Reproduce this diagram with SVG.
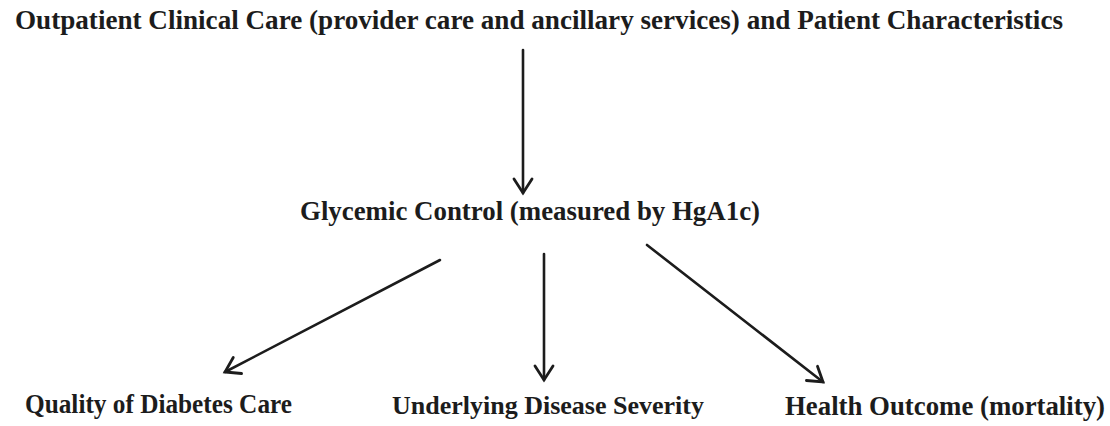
<svg xmlns="http://www.w3.org/2000/svg" width="1110" height="426" viewBox="0 0 1110 426">
<defs>
<style>
.t{font-family:"Liberation Serif","Times New Roman",serif;font-weight:bold;font-size:27px;fill:#1c1c1c}
.c{stroke:#1c1c1c;stroke-width:2.6;fill:none;stroke-linecap:round}
</style>
<marker id="ah" viewBox="-18 -12 21 24" refX="0" refY="0" markerWidth="21" markerHeight="24" markerUnits="userSpaceOnUse" orient="auto">
<path d="M-14,-9 L0,0 L-14,9" fill="none" stroke="#1c1c1c" stroke-width="2.8" stroke-linecap="round" stroke-linejoin="miter"/>
</marker>
</defs>
<rect width="1110" height="426" fill="#ffffff"/>
<g id="node-inputs"><text class="t" x="15" y="29" textLength="1048" lengthAdjust="spacingAndGlyphs">Outpatient Clinical Care (provider care and ancillary services) and Patient Characteristics</text></g>
<g id="node-glycemic"><text class="t" x="300" y="220" textLength="460" lengthAdjust="spacingAndGlyphs">Glycemic Control (measured by HgA1c)</text></g>
<g id="node-quality"><text class="t" x="25" y="413" textLength="267" lengthAdjust="spacingAndGlyphs">Quality of Diabetes Care</text></g>
<g id="node-severity"><text class="t" x="392" y="414" style="font-size:26px">Underlying Disease Severity</text></g>
<g id="node-outcome"><text class="t" x="785" y="415" textLength="320" lengthAdjust="spacingAndGlyphs">Health Outcome (mortality)</text></g>
<g id="connectors">
<line class="c" x1="523" y1="50" x2="523" y2="193" marker-end="url(#ah)"/>
<line class="c" x1="440" y1="260" x2="225" y2="372" marker-end="url(#ah)"/>
<line class="c" x1="544" y1="254" x2="544" y2="380" marker-end="url(#ah)"/>
<line class="c" x1="647" y1="245" x2="823" y2="382" marker-end="url(#ah)"/>
</g>
</svg>
